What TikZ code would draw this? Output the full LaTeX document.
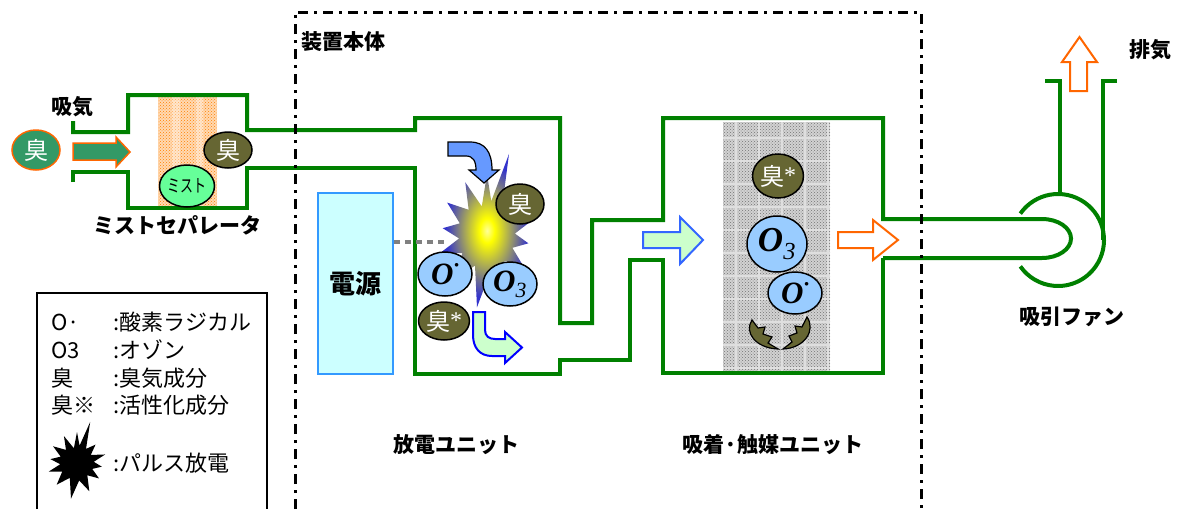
\documentclass[tikz,border=0pt]{standalone}
\usepackage{fontspec}
\setmainfont{Liberation Serif}
\newfontfamily\jp{Noto Sans CJK JP}
\usetikzlibrary{shapes.geometric,patterns}

\definecolor{pipegreen}{RGB}{0,128,0}
\definecolor{odorolive}{RGB}{102,102,51}
\definecolor{odorgreen}{RGB}{51,153,102}
\definecolor{pulseorange}{RGB}{255,102,0}
\definecolor{oxyblue}{RGB}{153,204,255}
\definecolor{psufill}{RGB}{204,255,255}
\definecolor{psuline}{RGB}{51,153,255}
\definecolor{flowblue}{RGB}{102,153,255}
\definecolor{mistgreen}{RGB}{102,255,153}
\definecolor{sparkblue}{RGB}{51,51,204}
\definecolor{palegreen}{RGB}{204,255,204}
\definecolor{edgeblue}{RGB}{51,102,255}

\pgfdeclareradialshading{spark}{\pgfpoint{0bp}{0bp}}{color(0bp)=(yellow!40!white); color(4bp)=(yellow); color(22bp)=(sparkblue); color(50bp)=(sparkblue)}

\newcommand\sparkpath{(90:62pt) -- (100:30pt) -- (112:58pt) -- (125:32pt) -- (140:52pt) -- (155:30pt) -- (170:45pt) -- (185:28pt) -- (200:50pt) -- (215:30pt) -- (232:55pt) -- (248:32pt) -- (262:72pt) -- (276:35pt) -- (290:60pt) -- (305:30pt) -- (320:48pt) -- (335:28pt) -- (350:42pt) -- (5:28pt) -- (20:50pt) -- (35:28pt) -- (50:48pt) -- (62:32pt) -- (75:85pt) -- (83:35pt) -- cycle}
\newcommand\oxyradical{O\kern1pt\raisebox{.55em}{\fontsize{9}{9}\selectfont$\bullet$}}
\newcommand\odoractive{臭\raisebox{.05em}{\rmfamily\fontsize{24}{24}\selectfont *}}

\begin{document}
\begin{tikzpicture}[x=1pt, y=-1pt,
  pipe/.style = {draw=pipegreen, line width=4pt},
  odor/.style = {ellipse, draw, line width=1.5pt, fill=odorolive, text=white, inner sep=0pt, font=\jp\fontsize{24}{24}\selectfont},
  oxy/.style = {ellipse, draw, line width=1.5pt, fill=oxyblue, inner sep=0pt, font=\bfseries\itshape\fontsize{31}{31}\selectfont},
  lbl/.style = {font=\jp\bfseries\fontsize{21}{21}\selectfont},
  legend/.style = {anchor=west, font=\jp\fontsize{22}{22}\selectfont},
  psu/.style = {draw=psuline, fill=psufill, line width=1.5pt, minimum width=75pt, minimum height=181pt, font=\jp\bfseries\fontsize{26}{26}\selectfont}]

    \useasboundingbox (0,0) rectangle (1182,509);

    % filter pads
    \fill[orange!30] (158,95) rectangle (217,208);
    \fill[pattern=crosshatch dots, pattern color=orange] (158,95) rectangle (217,208);
    \fill[white, opacity=.35] (172,95) rectangle (180,208) (196,95) rectangle (203,208);
    \fill[gray!35] (723,122) rectangle (830,372);
    \fill[pattern=crosshatch dots, pattern color=gray!90!black] (723,122) rectangle (830,372);
    \draw[gray!25, line width=1.3pt] (723,122) grid[step=23pt] (830,372);

    % ducts
    \draw[pipe] (73,121) -- (73,132) -- (128,132) -- (128,95) -- (247,95) -- (247,130) -- (415,130) -- (415,118) -- (560,118) -- (560,323) -- (592,323) -- (592,220) -- (663,220) -- (663,118) -- (883,118) -- (883,219) -- (1042,219) arc[start angle=90, end angle=-90, x radius=29pt, y radius=19.5pt] -- (883,258);
    \draw[pipe] (73,182) -- (73,172) -- (128,172) -- (128,208) -- (247,208) -- (247,168) -- (415,168) -- (415,374) -- (560,374) -- (560,360) -- (630,360) -- (630,260) -- (663,260) -- (663,373) -- (883,373) -- (883,258);
    \draw[pipe] (1058,240) ++(145:46pt) arc[start angle=145, end angle=-145, radius=46pt];
    \draw[pipe] (1045,81) -- (1060,81) -- (1060,195);
    \draw[pipe] (1117,81) -- (1103,81) -- (1103,240);

    \draw[line width=3pt, dash pattern=on 10pt off 6pt on 3pt off 6pt] (295,509) -- (295,12) -- (921,12) -- (921,509);
    \draw[line width=1.5pt] (37,509) -- (37,293) -- (267,293) -- (267,509);

    % power supply and pulse discharge
    \node[psu] (psu) at (355.5,283.5) {電源};
    \coordinate (spark) at (447,242);
    \draw[gray, line width=4pt, dash pattern=on 6pt off 5pt] (psu.east |- spark) -- (spark);
    \begin{scope}[shift={(487,236)}]
        \shade[shading=spark] \sparkpath;
    \end{scope}

    % flow arrows
    \draw[fill=odorgreen, draw=pulseorange, line width=1.5pt] (73,143) -- (116,143) -- (116,137) -- (130,152) -- (116,167) -- (116,160) -- (73,160) -- cycle;
    \draw[fill=flowblue, line width=1.2pt] (448,142) -- (470,142) .. controls (485,142) and (492,152) .. (492,170) -- (499,170) -- (484,183) -- (469,170) -- (476,170) .. controls (476,161) and (473,156) .. (466,156) -- (448,156) -- cycle;
    \draw[fill=palegreen, draw=blue, line width=2pt] (473,312) -- (485,312) -- (485,330) .. controls (485,336) and (489,339) .. (495,339) -- (505,339) -- (505,332) -- (522,347.5) -- (505,363) -- (505,356) -- (492,356) .. controls (480,356) and (473,348) .. (473,335) -- cycle;
    \draw[fill=palegreen, draw=edgeblue, line width=2pt] (643,232) -- (680,232) -- (680,217) -- (703,240) -- (680,264) -- (680,248) -- (643,248) -- cycle;
    \draw[fill=white, draw=pulseorange, line width=2pt] (838,232) -- (873,232) -- (873,220) -- (898,240) -- (873,260) -- (873,248) -- (838,248) -- cycle;
    \draw[fill=white, draw=pulseorange, line width=2pt] (1070,91) -- (1070,62) -- (1062,62) -- (1079.5,37) -- (1097,62) -- (1087,62) -- (1087,91) -- cycle;

    % particles
    \node[odor, fill=odorgreen, draw=pulseorange, minimum width=48pt, minimum height=40pt] (odorin) at (36,150) {臭};
    \node[odor, minimum width=48pt, minimum height=36pt] (odormist) at (228,150) {臭};
    \node[ellipse, draw, line width=1.5pt, fill=mistgreen, inner sep=0pt, minimum width=48pt, minimum height=42pt, font=\jp\fontsize{18}{18}\selectfont] (mist) at (187,186) {\scalebox{.72}[1]{ミスト}};

    \node[odor, minimum width=48pt, minimum height=40pt] (odordis) at (520,204) {臭};
    \node[oxy, minimum width=54pt, minimum height=44pt] (radicaldis) at (445,274) {\oxyradical};
    \node[oxy, minimum width=54pt, minimum height=44pt] (ozonedis) at (510,284) {O\textsubscript{\mdseries 3}};
    \node[odor, minimum width=50pt, minimum height=38pt] (activedis) at (444,321) {\odoractive};

    \node[odor, minimum width=48pt, minimum height=44pt] (activecat) at (778,176) {\odoractive};
    \node[oxy, minimum width=60pt, minimum height=56pt, font=\bfseries\itshape\fontsize{35}{35}\selectfont] (ozonecat) at (777,244) {O\textsubscript{\mdseries 3}};
    \node[oxy, minimum width=54pt, minimum height=42pt] (radicalcat) at (795,293) {\oxyradical};
    \draw[fill=odorolive, line width=1.2pt] (752,320) .. controls (744,332) and (755,348) .. (778,349) -- (768,343) -- (772,337) -- (763,334) -- (765,327) -- (758,328) -- cycle;
    \draw[fill=odorolive, line width=1.2pt] (807,317) .. controls (816,330) and (805,348) .. (783,349) -- (792,342) -- (789,336) -- (797,333) -- (795,326) -- (802,327) -- cycle;

    % labels
    \node[lbl] (intake) at (72,107) {吸気};
    \node[lbl] (separator) at (177,225) {ミストセパレータ};
    \node[lbl] (body) at (343,42) {装置本体};
    \node[lbl] (disunit) at (456,445) {放電ユニット};
    \node[lbl] (catunit) at (773,445) {吸着·触媒ユニット};
    \node[lbl] (fan) at (1072,317) {吸引ファン};
    \node[lbl] (exhaust) at (1150,50) {排気};

    % legend
    \node[legend] (k1) at (48,322) {O·};
    \node[legend] (v1) at (110,322) {:酸素ラジカル};
    \node[legend] (k2) at (48,350) {O3};
    \node[legend] (v2) at (110,350) {:オゾン};
    \node[legend] (k3) at (48,378) {臭};
    \node[legend] (v3) at (110,378) {:臭気成分};
    \node[legend] (k4) at (48,405) {臭※};
    \node[legend] (v4) at (110,405) {:活性化成分};
    \begin{scope}[shift={(77,463)}, xscale=.6, yscale=.5]
        \fill \sparkpath;
    \end{scope}
    \node[legend] (v5) at (110,463) {:パルス放電};

\end{tikzpicture}
\end{document}
